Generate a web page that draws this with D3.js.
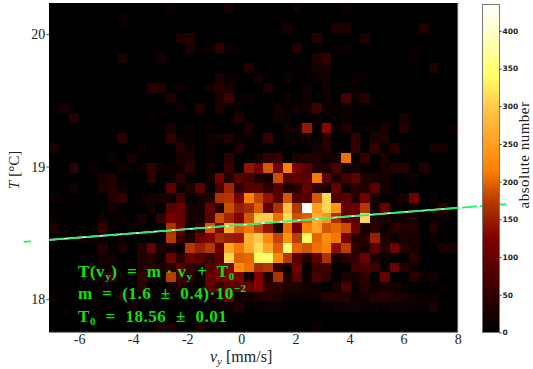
<!DOCTYPE html>
<html>
<head>
<meta charset="utf-8">
<script src="https://cdn.jsdelivr.net/npm/d3@7"></script>
<style>
  body { margin: 0; background: #fff; }
  text { font-family: "Liberation Serif", serif; fill: #222; white-space: pre; }
</style>
</head>
<body>
<div id="chart"></div>
<script>
// counts per bin, top row first, 42 columns
var binCounts = [
  [0,5,0,0,0,0,0,0,0,0,0,0,12,0, 0,0,0,0,20,0,0,0,0,0,0,12,0,0, 0,0,10,0,0,0,0,0,0,0,0,0,0,0],
  [0,0,0,0,0,0,0,15,0,0,0,0,0,0, 0,0,0,0,0,0,0,0,0,5,0,0,0,0, 0,0,0,0,0,0,0,0,0,0,0,0,0,0],
  [0,0,0,0,0,0,0,0,0,0,0,0,0,0, 0,0,0,0,0,0,0,0,0,0,25,0,0,0, 0,30,30,0,0,0,0,0,0,0,35,0,0,0],
  [0,0,0,0,0,0,0,0,0,0,0,0,0,30, 35,0,0,0,0,0,0,0,0,0,0,0,0,35, 0,0,0,0,30,0,0,0,0,0,0,0,0,0],
  [0,0,0,0,0,0,0,0,0,0,0,0,0,0, 25,0,10,50,15,0,0,0,0,0,0,40,0,0, 0,0,12,0,0,0,0,0,0,0,0,0,0,0],
  [0,0,0,0,0,0,0,28,0,0,0,20,0,0, 0,0,0,0,0,0,0,0,0,0,5,0,0,30, 50,0,0,0,0,0,0,0,0,12,0,0,0,0],
  [0,0,0,0,0,0,0,0,0,0,0,0,0,0, 0,0,0,0,0,0,35,0,5,0,0,5,0,20, 25,0,0,0,0,0,0,0,0,0,0,30,0,0],
  [0,0,0,0,0,0,0,0,0,0,0,0,0,0, 0,0,0,30,10,0,0,20,0,0,15,0,0,10, 15,0,5,12,0,0,0,0,0,0,0,0,0,0],
  [0,0,0,0,0,0,0,5,0,0,35,35,0,15, 0,0,20,35,25,0,0,0,30,0,0,0,15,0, 18,0,0,10,0,0,0,0,0,5,0,0,0,0],
  [0,0,0,0,0,0,0,0,0,0,0,0,30,0, 0,0,0,30,60,8,15,0,0,0,15,0,15,0, 15,0,70,10,40,0,0,0,0,0,0,0,0,0],
  [0,25,0,0,0,0,0,0,0,0,0,5,0,12, 0,35,0,30,0,10,0,0,0,18,5,15,15,60, 10,10,15,5,0,0,0,0,0,0,0,0,0,0],
  [0,0,40,0,0,0,0,0,0,0,8,0,0,0, 0,5,0,0,0,30,0,0,0,20,10,0,0,15, 8,5,10,0,0,0,0,0,25,0,0,0,0,0],
  [0,0,0,0,0,0,0,0,0,0,0,0,25,0, 12,0,8,0,0,0,30,0,0,0,20,15,145,0, 130,10,30,8,8,8,25,0,40,0,0,0,0,12],
  [0,0,0,0,0,0,0,45,0,0,0,0,45,15, 10,0,12,20,30,10,8,0,55,0,8,10,15,5, 40,0,0,55,0,30,30,0,0,0,0,0,0,0],
  [25,0,0,0,0,0,0,0,0,12,0,0,0,40, 18,0,10,5,5,30,5,0,8,5,5,0,5,20, 35,5,5,55,0,50,12,40,8,0,0,20,20,0],
  [0,0,0,0,0,0,12,0,20,0,0,5,0,25, 30,0,10,0,45,5,0,22,50,50,0,30,30,35, 15,25,205,0,55,0,25,0,0,0,0,0,0,0],
  [0,0,45,0,12,0,0,12,0,18,50,20,10,15, 45,0,15,0,55,5,140,115,190,110,215,115,85,35, 30,70,20,20,10,5,25,35,35,0,35,0,0,0],
  [0,0,0,0,0,25,30,0,0,0,45,0,15,45, 5,0,18,115,35,90,70,30,25,185,85,90,85,210, 90,30,65,95,30,25,20,0,0,15,0,0,0,0],
  [0,0,20,0,0,28,35,15,0,0,0,0,90,10, 30,90,8,70,155,50,85,85,45,85,25,40,100,50, 25,100,10,40,35,85,20,0,0,0,0,0,0,0],
  [12,8,0,0,0,0,30,50,0,15,20,25,15,65, 0,20,35,165,170,115,215,180,140,85,190,80,85,190, 310,70,85,40,110,25,5,10,25,110,0,15,0,0],
  [0,0,0,0,0,0,20,0,0,0,20,0,90,100, 20,25,100,40,185,150,160,195,90,165,290,170,435,250, 310,240,100,100,170,20,95,10,5,20,0,0,50,0],
  [8,0,0,0,0,20,5,10,0,25,0,50,110,100, 25,25,85,185,155,125,190,300,300,205,315,185,195,270, 240,165,95,90,310,30,25,15,20,25,0,10,12,0],
  [28,0,0,0,0,50,8,0,15,0,0,0,165,105, 10,55,190,120,270,195,210,180,140,30,205,110,220,255, 190,200,185,105,20,45,15,40,35,35,0,35,5,0],
  [0,0,0,20,15,10,0,8,0,0,0,0,170,60, 30,100,125,160,150,145,270,300,225,180,235,175,340,200, 230,210,110,35,40,150,35,10,30,25,0,15,0,0],
  [0,0,0,0,0,35,5,25,0,40,100,30,25,15, 170,150,170,100,255,210,265,315,260,195,350,200,190,205, 220,135,175,45,25,90,35,110,40,25,0,0,20,20],
  [0,0,5,0,0,20,20,0,0,30,40,15,105,45, 100,90,55,95,310,195,200,335,345,225,170,85,35,90, 165,20,40,50,105,30,15,0,0,40,0,0,0,0],
  [0,0,0,0,10,5,20,0,0,35,35,30,40,80, 55,20,85,100,120,225,205,160,170,50,15,110,5,60, 65,5,0,65,65,65,10,105,40,15,0,0,0,0],
  [0,0,0,0,20,25,50,0,0,50,25,0,175,65, 40,10,100,110,120,120,20,125,30,165,30,90,10,70, 50,5,30,25,50,0,100,0,0,40,10,20,0,0],
  [0,0,0,0,0,0,0,0,0,45,0,0,20,40, 10,5,95,60,90,90,100,125,50,50,30,30,15,15, 0,25,70,5,40,15,25,25,10,0,0,0,8,0],
  [10,0,0,0,0,0,0,25,25,0,0,0,0,0, 0,5,20,30,100,10,20,30,40,30,15,15,12,15, 40,35,35,15,20,40,45,30,25,12,10,8,0,0],
  [0,0,0,0,0,0,0,0,20,0,0,0,0,0, 0,0,0,10,15,35,0,5,15,15,0,0,0,0, 5,12,15,20,8,15,5,12,12,10,8,30,5,0],
  [0,0,0,0,0,0,0,0,0,0,0,0,0,0, 0,0,0,0,0,0,0,0,0,0,0,0,0,0, 0,0,0,0,0,0,0,0,0,0,0,0,0,0],
  [0,0,0,0,0,0,0,0,0,0,0,25,25,0, 0,25,0,0,0,0,0,0,0,0,0,0,0,10, 0,0,0,0,0,0,0,0,0,0,0,0,0,0]
];

var xTicks = [-6, -4, -2, 0, 2, 4, 6, 8];
var yTicks = [18, 19, 20];
var cbarTicks = [0, 50, 100, 150, 200, 250, 300, 350, 400];

// fit: T = m * v + T0, the line leaves the axes on both sides
var fitM = 0.016;
var fitT0 = 18.56;
var fitStubV = [-8.05, -7.78];
var fitMainV = [-7.1, 9.8];

// colormap
var cmapVals = [0, 50, 100, 125, 150, 175, 215, 250, 300, 340, 400, 435];
var cmapCols = ["#000000", "#300000", "#660000", "#800000", "#991f00", "#b83d00", "#ff8000", "#ff9e20", "#ffc94d", "#ffff66", "#ffffcc", "#ffffff"];

var X_MIN = -7.1, X_MAX = 8, T_MIN = 17.749, T_MAX = 20.232, COUNT_MAX = 435;
var NCOLS = binCounts[0].length, NROWS = binCounts.length;
var BIN_W = (X_MAX - X_MIN) / NCOLS;
var BIN_H = (T_MAX - T_MIN) / NROWS;

var svg = d3.select("#chart").append("svg")
  .attr("width", 533)
  .attr("height", 369);

var x = d3.scaleLinear().domain([X_MIN, X_MAX]).range([49.3, 457.7]);
var y = d3.scaleLinear().domain([T_MIN, T_MAX]).range([332.3, 3.3]);
var color = d3.scaleLinear().domain(cmapVals).range(cmapCols);
var cbarY = d3.scaleLinear().domain([0, COUNT_MAX]).range([332.5, 4.5]);

// background, then cells
svg.append("rect")
  .attr("x", x(X_MIN)).attr("y", y(T_MAX))
  .attr("width", x(X_MAX) - x(X_MIN)).attr("height", y(T_MIN) - y(T_MAX))
  .attr("fill", "#000");

binCounts.forEach(function(row, r) {
  svg.append("g").attr("shape-rendering", "crispEdges")
    .selectAll("rect")
    .data(row)
    .join("rect")
    .attr("x", function(d, c) { return x(X_MIN + c * BIN_W); })
    .attr("y", y(T_MAX - r * BIN_H))
    .attr("width", x(BIN_W) - x(0))
    .attr("height", y(0) - y(BIN_H))
    .attr("fill", function(d) { return color(d); });
});

// spines
var spine = "#777";
svg.append("line").attr("x1", x(X_MAX)).attr("x2", x(X_MAX)).attr("y1", y(T_MAX)).attr("y2", y(T_MIN)).attr("stroke", spine);
svg.append("line").attr("x1", x(X_MIN)).attr("x2", x(X_MAX)).attr("y1", y(T_MIN)).attr("y2", y(T_MIN)).attr("stroke", spine);

// axes
var xAxis = svg.append("g")
  .attr("transform", "translate(0," + y(T_MIN) + ")")
  .call(d3.axisBottom(x).tickValues(xTicks).tickSize(0).tickPadding(2).tickFormat(function(d) { return String(d); }));
xAxis.select(".domain").remove();
xAxis.selectAll("text").attr("font-size", 14);

var yAxis = svg.append("g")
  .attr("transform", "translate(" + x(X_MIN) + ",0)")
  .call(d3.axisLeft(y).tickValues(yTicks).tickSize(3).tickPadding(1).tickFormat(d3.format("d")));
yAxis.select(".domain").remove();
yAxis.selectAll("line").attr("stroke", "#555");
yAxis.selectAll("text").attr("font-size", 14);

// axis labels
var xLabel = svg.append("text").attr("x", 210).attr("y", 362).attr("font-size", 16);
xLabel.append("tspan").attr("font-style", "italic").text("v");
xLabel.append("tspan").attr("font-style", "italic").attr("font-size", 11).attr("dy", 3).text("y");
xLabel.append("tspan").attr("dy", -3).attr("dx", 4).text("[mm/s]");

var yLabel = svg.append("text")
  .attr("transform", "translate(19,170) rotate(-90)")
  .attr("text-anchor", "middle")
  .attr("font-size", 15);
yLabel.append("tspan").attr("font-style", "italic").text("T");
yLabel.append("tspan").attr("dx", 4).text("[°C]");

// fit line, dashed green over white
var fitLine = d3.line()
  .x(function(v) { return x(v); })
  .y(function(v) { return y(fitM * v + fitT0); });

svg.append("path").attr("d", fitLine(fitMainV)).attr("fill", "none")
  .attr("stroke", "#fff").attr("stroke-width", 1.6);
svg.append("path").attr("d", fitLine(fitMainV)).attr("fill", "none")
  .attr("stroke", "#1df06a").attr("stroke-width", 1.8).attr("stroke-dasharray", "15,3");
svg.append("path").attr("d", fitLine(fitStubV)).attr("fill", "none")
  .attr("stroke", "#1df06a").attr("stroke-width", 1.8);

// fit annotation
var GREEN = "#0fe00f";
function mathLine(baseline, parts) {
  var t = svg.append("text")
    .attr("x", 78).attr("y", baseline)
    .attr("font-size", 17).attr("font-weight", "bold")
    .style("fill", GREEN)
    .attr("letter-spacing", 0.55);
  parts.forEach(function(p) {
    var s = t.append("tspan").text(p[0]);
    if (p[1] === "sub") s.attr("font-size", 11).attr("dy", 3);
    if (p[1] === "sup") s.attr("font-size", 11).attr("dy", -7);
    if (p[1] === "base-sub") s.attr("dy", -3);
  });
}
mathLine(277, [["T(v"], ["y", "sub"], [")  =  m · v", "base-sub"], ["y", "sub"], [" +  T", "base-sub"], ["0", "sub"]]);
mathLine(299, [["m  =  (1.6  ±  0.4)·10"], ["−2", "sup"]]);
mathLine(321.5, [["T"], ["0", "sub"], ["  =  18.56  ±  0.01", "base-sub"]]);

// colorbar
svg.append("g").attr("shape-rendering", "crispEdges")
  .selectAll("rect")
  .data(d3.range(0, COUNT_MAX, 1))
  .join("rect")
  .attr("x", 482.5)
  .attr("y", function(d) { return cbarY(d + 1); })
  .attr("width", 17)
  .attr("height", cbarY(0) - cbarY(1.2))
  .attr("fill", function(d) { return color(d); });

svg.append("rect")
  .attr("x", 482.5).attr("y", cbarY(COUNT_MAX))
  .attr("width", 17).attr("height", cbarY(0) - cbarY(COUNT_MAX))
  .attr("fill", "none").attr("stroke", "#777");

var cbarAxis = svg.append("g")
  .attr("transform", "translate(499.5,0)")
  .call(d3.axisRight(cbarY).tickValues(cbarTicks).tickSize(2).tickPadding(1));
cbarAxis.select(".domain").remove();
cbarAxis.selectAll("line").attr("stroke", "#333");
cbarAxis.selectAll("text")
  .attr("font-size", 7.5).attr("font-weight", 600)
  .style("font-family", "DejaVu Sans");

svg.append("text")
  .attr("transform", "translate(529,155) rotate(-90)")
  .attr("text-anchor", "middle")
  .attr("font-size", 15)
  .attr("letter-spacing", 0.5)
  .text("absolute number");
</script>
</body>
</html>
